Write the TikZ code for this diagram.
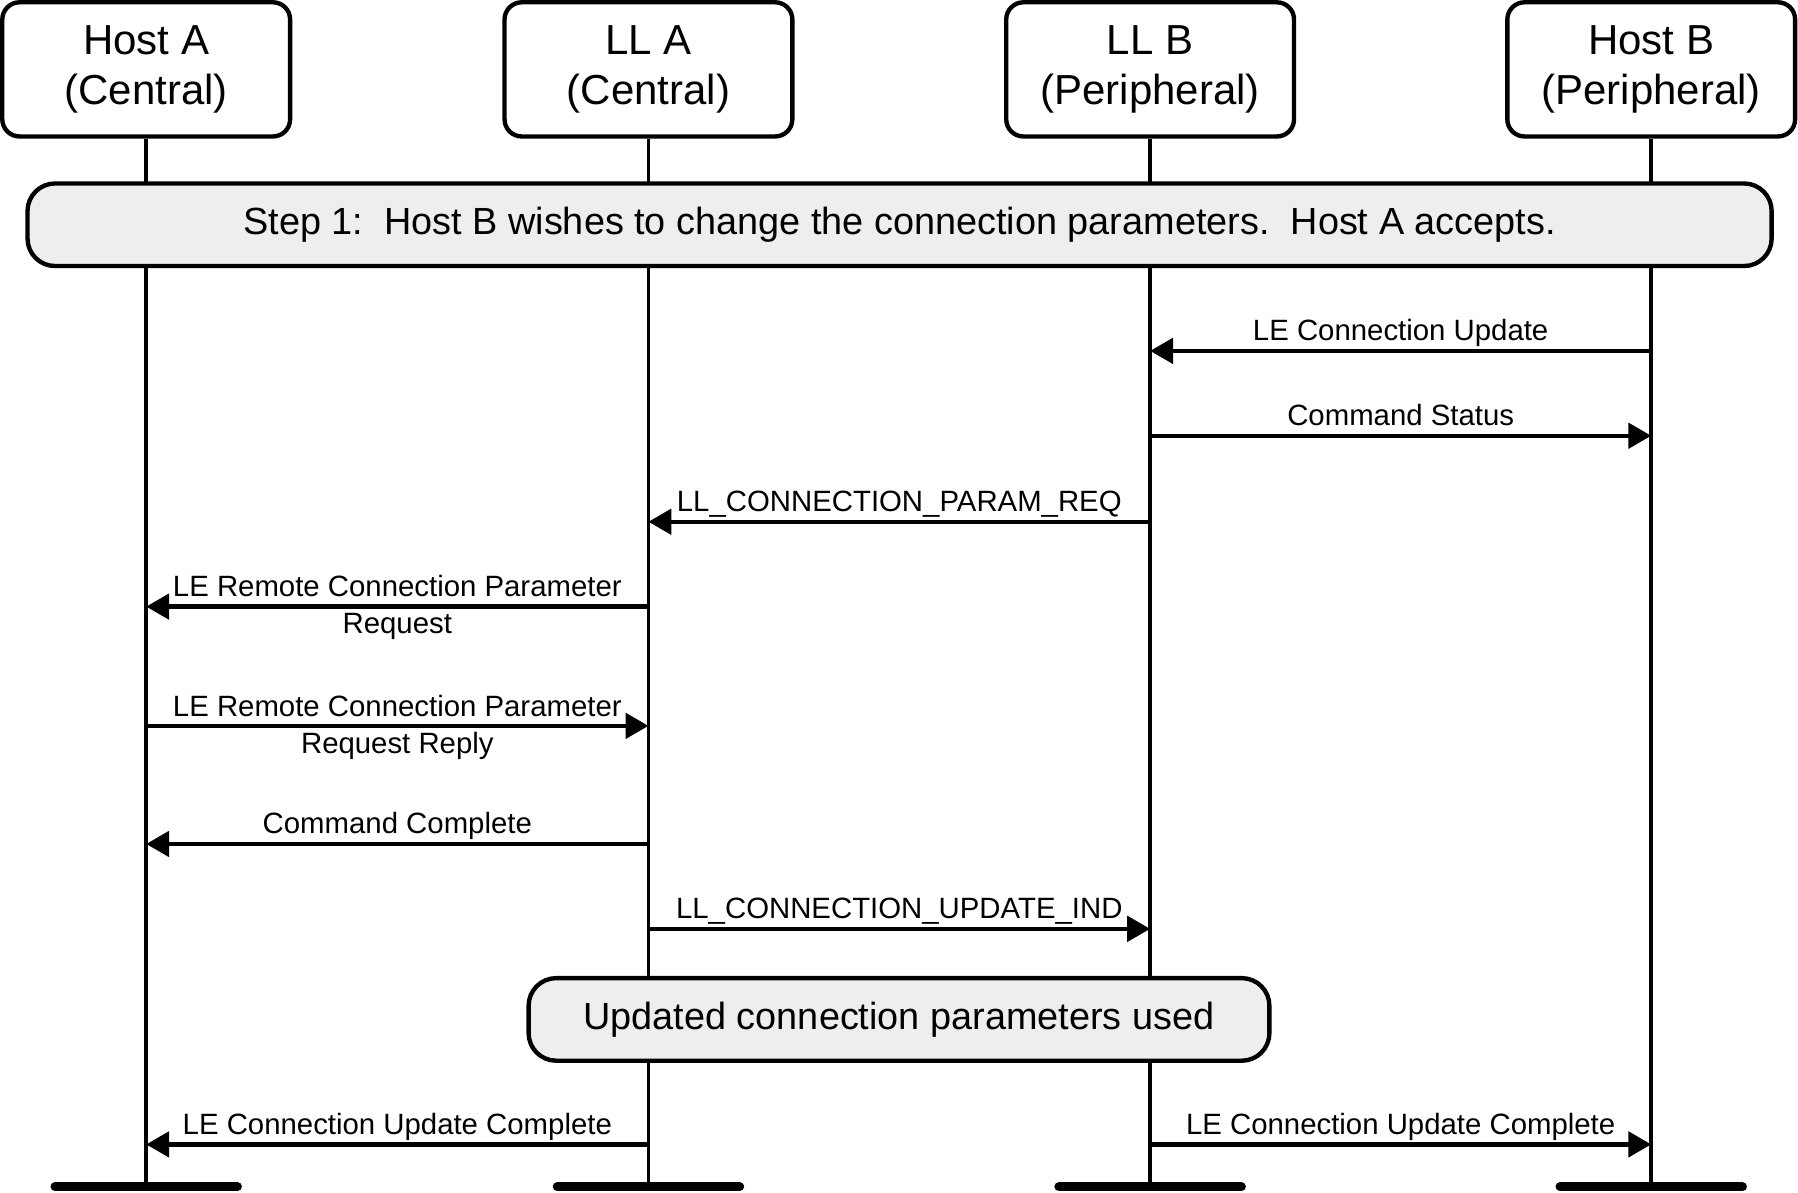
\documentclass[tikz,border=0pt]{standalone}
\usepackage{fontspec}
\setmainfont{Liberation Sans}
\usetikzlibrary{arrows.meta,calc}
\definecolor{barfill}{HTML}{EEEEEE}
\begin{document}
\begin{tikzpicture}[x=0.5pt,y=-0.5pt,
  actor/.style={draw,line width=1.9pt,rounded corners=7.5pt,minimum width=125.5pt,minimum height=58.5pt,align=center,font=\fontsize{18.3}{22}\selectfont,inner sep=0pt},
  phase/.style={draw,line width=1.9pt,fill=barfill,rounded corners=12pt,inner sep=0pt,minimum height=36pt,font=\fontsize{16.5}{20}\selectfont},
  life/.style={line width=1.7pt},
  msg/.style={line width=1.9pt,-{Triangle[length=10pt,width=11pt]}},
  lbl/.style={font=\fontsize{12.8}{15.5}\selectfont,anchor=base,yshift=4.5pt,inner sep=0pt},
  lbltwo/.style={font=\fontsize{12.8}{16.2}\selectfont,align=center,anchor=center,inner sep=0pt,yshift=-0.5pt},
  endbar/.style={line width=4pt,line cap=round}]
\useasboundingbox (0,0) rectangle (1568,1040);
\frenchspacing
% actors
\node[actor] (hA) at (127.5,60.5) {Host A\\(Central)};
\node[actor] (lA) at (565.5,60.5) {LL A\\(Central)};
\node[actor] (lB) at (1003,60.5) {LL B\\(Peripheral)};
\node[actor] (hB) at (1440,60.5) {Host B\\(Peripheral)};
% y levels
\coordinate (y1) at (0,306);
\coordinate (y2) at (0,380);
\coordinate (y3) at (0,455);
\coordinate (y4) at (0,529);
\coordinate (y5) at (0,633);
\coordinate (y6) at (0,736);
\coordinate (y7) at (0,810);
\coordinate (y8) at (0,998);
\coordinate (yend) at (0,1035);
% lifelines
\foreach \a in {hA,lA,lB,hB}{
  \draw[life] (\a.south) -- (\a |- yend);
  \draw[endbar] ($(\a |- yend)+(-79.5,0)$) -- ($(\a |- yend)+(79.5,0)$);
}
% phase bars
\node[phase,minimum width=760.5pt] (step) at (784.5,196) {\raisebox{1.5pt}{Step 1:\ \ Host B wishes to change the connection parameters.\ \ Host A accepts.}};
\node[phase,minimum width=323pt] (upd) at (784,889) {\raisebox{1pt}{Updated connection parameters used}};
% messages
\draw[msg] (hB |- y1) -- node[lbl]{LE Connection Update} (lB |- y1);
\draw[msg] (lB |- y2) -- node[lbl]{Command Status} (hB |- y2);
\draw[msg] (lB |- y3) -- node[lbl]{LL\_CONNECTION\_PARAM\_REQ} (lA |- y3);
\draw[msg] (lA |- y4) -- node[lbltwo]{LE Remote Connection Parameter\\Request} (hA |- y4);
\draw[msg] (hA |- y5) -- node[lbltwo]{LE Remote Connection Parameter\\Request Reply} (lA |- y5);
\draw[msg] (lA |- y6) -- node[lbl]{Command Complete} (hA |- y6);
\draw[msg] (lA |- y7) -- node[lbl]{LL\_CONNECTION\_UPDATE\_IND} (lB |- y7);
\draw[msg] (lA |- y8) -- node[lbl]{LE Connection Update Complete} (hA |- y8);
\draw[msg] (lB |- y8) -- node[lbl]{LE Connection Update Complete} (hB |- y8);
\end{tikzpicture}
\end{document}
